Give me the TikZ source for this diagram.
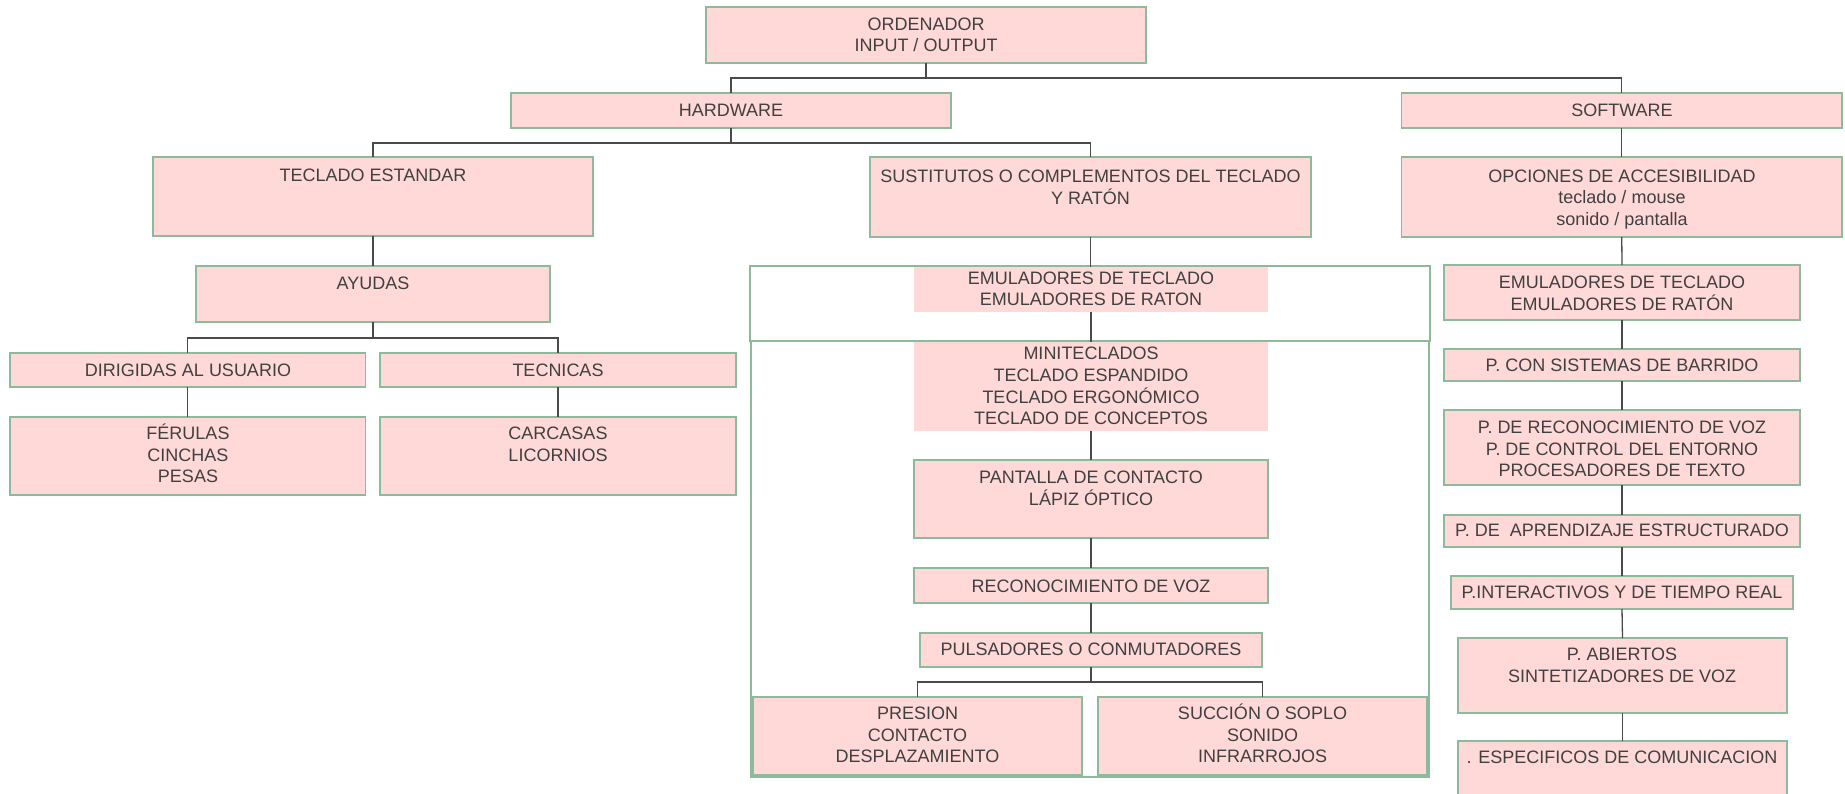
\documentclass[tikz,border=0pt]{standalone}
\usepackage{fontspec}
\setmainfont{Liberation Sans}
\definecolor{boxpink}{HTML}{FFD8D8}
\definecolor{boxgreen}{HTML}{8DBA98}
\definecolor{txtgray}{HTML}{404040}
\definecolor{linegray}{HTML}{4A4A4A}
\newcommand\ml[1]{\begin{tabular}[t]{@{}c@{}}#1\end{tabular}}
\newcommand\bx[6][box]{\node[#1, minimum width={(#5-#3)*1pt}, minimum height={(#6-#4)*1pt}] (#2) at (#3,#4) {};}
\tikzset{
  box/.style={draw=boxgreen, fill=boxpink, line width=1.5pt, inner sep=0pt, outer sep=0pt, anchor=north west},
  plainbox/.style={fill=boxpink, draw=none, inner sep=0pt, outer sep=0pt, anchor=north west},
  framebox/.style={draw=boxgreen, line width=2pt, inner sep=0pt, outer sep=0pt, anchor=north west},
  txt/.style={text=txtgray, inner sep=0pt, anchor=base},
  conn/.style={draw=linegray, line width=1.3pt}
}
\begin{document}
\begin{tikzpicture}[x=1pt, y=-1pt, font=\fontsize{18}{21.5}\selectfont]
\useasboundingbox (0,0) rectangle (1845,794);
\clip (0,0) rectangle (1845,794);
\fill[white] (0,0) rectangle (1845,794);
% frames
\bx[framebox]{fup}{750}{266}{1430}{341}
\bx[framebox]{flow}{751}{341}{1429}{777}
% boxes
\bx{ord}{706}{7}{1146}{63}
\bx{hw}{511}{93}{951}{128}
\bx{sw}{1401.5}{93}{1842}{128}
\bx{te}{153}{157}{593}{236}
\bx{sus}{870}{157}{1311}{237}
\bx{opc}{1401.5}{157}{1842}{237}
\bx{ayu}{196}{266}{550}{322}
\bx{dir}{10}{353}{365.5}{387}
\bx{tec}{380}{353}{736}{387}
\bx{fer}{10}{417}{365.5}{495}
\bx{car}{380}{417}{736}{495}
\bx[plainbox]{emu1}{914}{267}{1268}{312}
\bx[plainbox]{mini}{914}{342}{1268}{431}
\bx{pan}{914}{460}{1268}{538}
\bx{rec}{914}{568}{1268}{603}
\bx{pul}{920}{633}{1262}{667}
\bx{pre}{753}{697}{1082}{775}
\bx{suc}{1098}{697}{1427}{775}
\bx{emu2}{1444}{265}{1800}{320}
\bx{pcs}{1444}{349}{1800}{381}
\bx{prv}{1444}{410}{1800}{485}
\bx{pap}{1444}{515}{1800}{547}
\bx{pin}{1451}{576}{1793}{609}
\bx{pab}{1458}{638}{1787}{713}
\bx{pes}{1458}{741}{1787}{812}
% texts
\node[txt] (ord-t) at (926,30.5) {\ml{ORDENADOR\\INPUT / OUTPUT}};
\node[txt] (hw-t) at (731,116.5) {HARDWARE};
\node[txt] (sw-t) at (1622,116.5) {SOFTWARE};
\node[txt] (te-t) at (373,181.5) {TECLADO ESTANDAR};
\node[txt] (sus-t) at (1090.5,182.5) {\ml{SUSTITUTOS O COMPLEMENTOS DEL TECLADO\\Y RATÓN}};
\node[txt] (opc-t) at (1622,182.5) {\ml{OPCIONES DE ACCESIBILIDAD\\teclado / mouse\\sonido / pantalla}};
\node[txt] (ayu-t) at (373,289.5) {AYUDAS};
\node[txt] (dir-t) at (188,376.5) {DIRIGIDAS AL USUARIO};
\node[txt] (tec-t) at (558,376.5) {TECNICAS};
\node[txt] (fer-t) at (188,439.5) {\ml{FÉRULAS\\CINCHAS\\PESAS}};
\node[txt] (car-t) at (558,439.5) {\ml{CARCASAS\\LICORNIOS}};
\node[txt] (emu1-t) at (1091,284.5) {\ml{EMULADORES DE TECLADO\\EMULADORES DE RATON}};
\node[txt] (mini-t) at (1091,359.5) {\ml{MINITECLADOS\\TECLADO ESPANDIDO\\TECLADO ERGONÓMICO\\TECLADO DE CONCEPTOS}};
\node[txt] (pan-t) at (1091,483.5) {\ml{PANTALLA DE CONTACTO\\LÁPIZ ÓPTICO}};
\node[txt] (rec-t) at (1091,592.5) {RECONOCIMIENTO DE VOZ};
\node[txt] (pul-t) at (1091,655.5) {PULSADORES O CONMUTADORES};
\node[txt] (pre-t) at (917.5,719.5) {\ml{PRESION\\CONTACTO\\DESPLAZAMIENTO}};
\node[txt] (suc-t) at (1262.5,719.5) {\ml{SUCCIÓN O SOPLO\\SONIDO\\INFRARROJOS}};
\node[txt] (emu2-t) at (1622,288.5) {\ml{EMULADORES DE TECLADO\\EMULADORES DE RATÓN}};
\node[txt] (pcs-t) at (1622,371.5) {P. CON SISTEMAS DE BARRIDO};
\node[txt] (prv-t) at (1622,433.5) {\ml{P. DE RECONOCIMIENTO DE VOZ\\P. DE CONTROL DEL ENTORNO\\PROCESADORES DE TEXTO}};
\node[txt] (pap-t) at (1622,536.5) {P. DE\ \ APRENDIZAJE ESTRUCTURADO};
\node[txt] (pin-t) at (1622,598.5) {P.INTERACTIVOS Y DE TIEMPO REAL};
\node[txt] (pab-t) at (1622,660.5) {\ml{P. ABIERTOS\\SINTETIZADORES DE VOZ}};
\node[txt] (pes-t) at (1622,763.5) {. ESPECIFICOS DE COMUNICACION};
% connectors
\draw[conn] (ord.south) -- ++(0,15) -| (hw.north);
\draw[conn] (ord.south) -- ++(0,15) -| (sw.north);
\draw[conn] (hw.south) -- ++(0,15) -| (te.north);
\draw[conn] (hw.south) -- ++(0,15) -| (sus.north);
\draw[conn] (te.south) -- (ayu.north);
\draw[conn] (ayu.south) -- ++(0,16) -| (dir.north);
\draw[conn] (ayu.south) -- ++(0,16) -| (tec.north);
\draw[conn] (dir.south) -- (fer.north);
\draw[conn] (tec.south) -- (car.north);
\draw[conn] (sus.south) -- (sus.south |- emu1.north);
\draw[conn] (emu1.south) -- (mini.north);
\draw[conn] (mini.south) -- (pan.north);
\draw[conn] (pan.south) -- (rec.north);
\draw[conn] (rec.south) -- (pul.north);
\draw[conn] (pul.south) -- ++(0,15) -| (pre.north);
\draw[conn] (pul.south) -- ++(0,15) -| (suc.north);
\draw[conn] (sw.south) -- (opc.north);
\draw[conn] (opc.south) -- (emu2.north);
\draw[conn] (emu2.south) -- (pcs.north);
\draw[conn] (pcs.south) -- (prv.north);
\draw[conn] (prv.south) -- (pap.north);
\draw[conn] (pap.south) -- (pin.north);
\draw[conn] (pin.south) -- (pab.north);
\draw[conn] (pab.south) -- (pes.north);
\end{tikzpicture}
\end{document}
